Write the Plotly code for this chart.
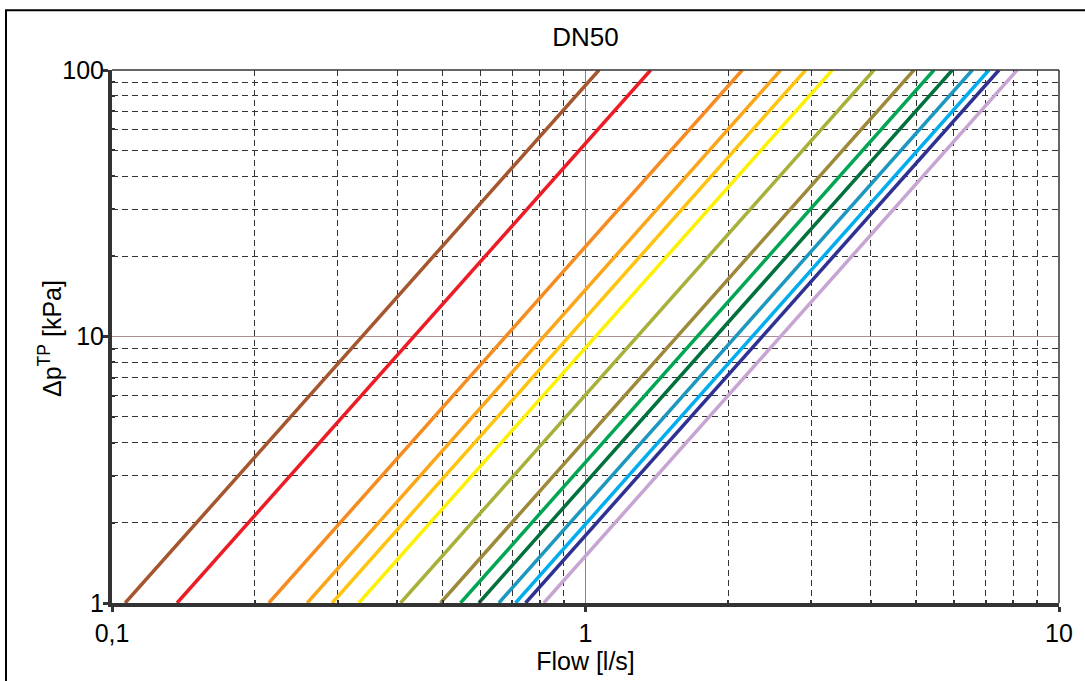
import plotly.graph_objects as go

# Pressure drop end points of every characteristic (kPa)
dp_ends = [1, 100]

# Flow (l/s) read where each curve meets 1 kPa and 100 kPa
flow_at_1kpa = [0.1066, 0.1372, 0.2144, 0.2584, 0.2917, 0.3321, 0.4068,
                0.4940, 0.5445, 0.5953, 0.6561, 0.7115, 0.7470, 0.8165]
flow_at_100kpa = [1.068, 1.373, 2.144, 2.584, 2.917, 3.321, 4.068,
                  4.940, 5.445, 5.953, 6.561, 7.115, 7.470, 8.165]

line_colors = ["#A5562F", "#ED1C24", "#F68B1F", "#FAA61A", "#FFC40E", "#FFF000",
               "#A8B03A", "#9C8A3A", "#00A651", "#00703C", "#1C98BF", "#00AEEF",
               "#2E3192", "#C8A4D2"]

x_tickvals = [0.1, 1, 10]
x_ticktext = ["0,1", "1", "10"]
y_tickvals = [1, 10, 100]
y_ticktext = ["1", "10", "100"]
x_minor = [0.2, 0.3, 0.4, 0.5, 0.6, 0.7, 0.8, 0.9, 2, 3, 4, 5, 6, 7, 8, 9]
y_minor = [2, 3, 4, 5, 6, 7, 8, 9, 20, 30, 40, 50, 60, 70, 80, 90]

FONT = "Liberation Sans, Arial, sans-serif"
DARK = "#333333"

fig = go.Figure()
for q1, q100, c in zip(flow_at_1kpa, flow_at_100kpa, line_colors):
    fig.add_trace(go.Scatter(x=[q1, q100], y=dp_ends, mode="lines",
                             line=dict(color=c, width=3.5), showlegend=False,
                             hoverinfo="skip"))

fig.update_layout(
    width=1085, height=681,
    margin=dict(l=112, r=26, t=70, b=76),
    paper_bgcolor="white", plot_bgcolor="white",
    font=dict(family=FONT, size=25, color="black"),
    title=dict(text="DN50", x=0.5, xref="paper", xanchor="center",
               y=1 - 37 / 681, yanchor="middle",
               font=dict(family=FONT, size=26, color="black")),
    showlegend=False,
)

fig.update_xaxes(
    type="log", range=[-1, 1],
    tickmode="array", tickvals=x_tickvals, ticktext=x_ticktext,
    ticks="outside", ticklen=5, tickwidth=3, tickcolor=DARK,
    tickfont=dict(family=FONT, size=25, color="black"),
    showline=True, linecolor=DARK, linewidth=4,
    showgrid=True, gridcolor="#8C8484", gridwidth=1,
    zeroline=False,
    minor=dict(tickmode="array", tickvals=x_minor, ticks="inside", ticklen=3,
               tickcolor=DARK, tickwidth=2, showgrid=True, gridcolor=DARK,
               gridwidth=1, griddash="6px,4px"),
    title=dict(text="Flow [l/s]", standoff=4,
               font=dict(family=FONT, size=25, color="black")),
)

fig.update_yaxes(
    type="log", range=[0, 2],
    tickmode="array", tickvals=y_tickvals, ticktext=y_ticktext,
    ticks="outside", ticklen=5, tickwidth=3, tickcolor=DARK,
    ticklabelstandoff=-6,
    tickfont=dict(family=FONT, size=25, color="black"),
    showline=True, linecolor=DARK, linewidth=4,
    showgrid=True, gridcolor="#A89090", gridwidth=1,
    zeroline=False,
    minor=dict(tickmode="array", tickvals=y_minor, ticks="inside", ticklen=3,
               tickcolor=DARK, tickwidth=2, showgrid=True, gridcolor=DARK,
               gridwidth=1, griddash="6px,4px"),
)

# y axis title placed precisely
fig.add_annotation(text="\u0394p<sup>TP</sup> [kPa]", xref="paper", yref="paper",
                   x=(50 - 112) / 947, y=(605 - 340) / 535, xanchor="center", yanchor="middle",
                   textangle=-90, showarrow=False,
                   font=dict(family=FONT, size=25, color="black"))

# top and right frame of the plotting area
fig.add_shape(type="line", xref="x domain", yref="y domain", x0=0, x1=1, y0=1, y1=1,
              line=dict(color=DARK, width=1.5))
fig.add_shape(type="line", xref="x domain", yref="y domain", x0=1, x1=1, y0=0, y1=1,
              line=dict(color=DARK, width=1.5))
# outer frame of the picture
fig.add_shape(type="rect", xref="paper", yref="paper",
              x0=(6 - 112) / 947, x1=1.2, y0=-0.3, y1=(605 - 10) / 535,
              line=dict(color="black", width=2), fillcolor="rgba(0,0,0,0)", layer="below")

fig.write_html("out.html")
